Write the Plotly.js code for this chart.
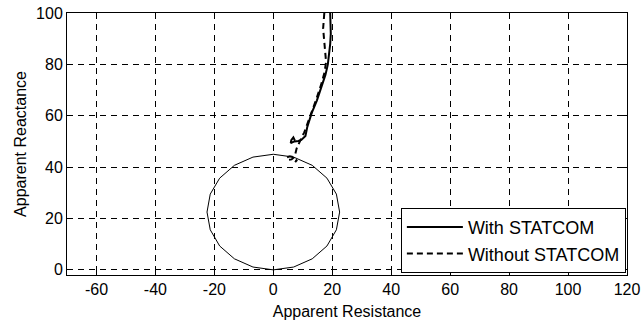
<!DOCTYPE html>
<html>
<head>
<meta charset="utf-8">
<script src="https://cdn.plot.ly/plotly-3.0.1.min.js"></script>
<style>html,body{margin:0;padding:0;background:#fff;}#chart{width:642px;height:326px;}</style>
</head>
<body>
<div id="chart"></div>
<script>
// Mho relay characteristic (polygon)
const circleR = [0, -6.9, -13.2, -18.2, -21.4, -22.5, -21.4, -18.2, -13.2, -6.9, 0, 6.9, 13.2, 18.2, 21.4, 22.5, 21.4, 18.2, 13.2, 6.9, 0];
const circleX = [45, 43.9, 40.7, 35.7, 29.5, 22.5, 15.6, 9.3, 4.3, 1.1, 0, 1.1, 4.3, 9.3, 15.6, 22.5, 29.5, 35.7, 40.7, 43.9, 45];

// Impedance trajectory with STATCOM
const withR = [19.3, 19.5, 19.5, 19.3, 19.0, 18.5, 17.7, 16.5, 14.8, 13.0, 11.5, 10.9, 9.5, 8.5, 7.2, 5.9, 6.1, 6.8, 7.3];
const withX = [100, 95, 92, 88, 84, 80, 76, 71.5, 66, 61, 55.5, 52.1, 50.6, 50.2, 50.0, 49.4, 50.5, 51.6, 50.4];

// Impedance trajectory without STATCOM
const withoutR = [17.3, 17.0, 16.9, 17.2, 17.6, 17.9, 17.4, 16.2, 14.6, 13.0, 11.6, 10.5, 9.7, 9.0, 8.5, 7.9, 7.5, 7.2, 6.2, 5.0, 4.6, 5.6, 7.0, 7.9, 7.4];
const withoutX = [100, 97, 94, 90, 86, 81, 77, 72, 66.5, 61.5, 56.5, 53.5, 51.8, 50, 48.5, 47.2, 45.3, 44, 43, 42.8, 43.8, 44.2, 43.8, 42.6, 41.9];

const xTicks = [-60, -40, -20, 0, 20, 40, 60, 80, 100, 120];
const yTicks = [0, 20, 40, 60, 80, 100];

const traces = [
  {x: circleR, y: circleX, mode: 'lines', line: {color: '#000', width: 1}, showlegend: false, hoverinfo: 'skip'},
  {x: withR, y: withX, mode: 'lines', name: 'With STATCOM', line: {color: '#000', width: 2}},
  {x: withoutR, y: withoutX, mode: 'lines', name: 'Without STATCOM', line: {color: '#000', width: 2, dash: '6px,4px'}}
];

const FONT = 'Liberation Sans, Arial, sans-serif';
const axisCommon = {
  showline: true, linecolor: '#000', linewidth: 1, mirror: 'ticks',
  ticks: 'inside', ticklen: 5, tickcolor: '#000', tickwidth: 1,
  showgrid: true, gridcolor: '#000', gridwidth: 1, griddash: '6px,5px',
  zeroline: false,
  tickfont: {family: FONT, size: 16, color: '#000'}
};

const layout = {
  width: 642, height: 326,
  margin: {l: 67, r: 15, t: 13, b: 51},
  paper_bgcolor: '#fff', plot_bgcolor: '#fff',
  font: {family: FONT, size: 16, color: '#000'},
  xaxis: Object.assign({}, axisCommon, {
    range: [-70, 120], tickvals: xTicks, ticktext: xTicks.map(String),
    title: {text: 'Apparent Resistance', standoff: 8, font: {size: 16}}
  }),
  yaxis: Object.assign({}, axisCommon, {
    range: [-2, 100], tickvals: yTicks, ticktext: yTicks.map(String),
    title: {text: 'Apparent Reactance', standoff: 5, font: {size: 16}}
  }),
  showlegend: true,
  legend: {
    x: 0.998, y: 0.008, xanchor: 'right', yanchor: 'bottom',
    bgcolor: '#fff', bordercolor: '#000', borderwidth: 1,
    font: {size: 18, color: '#000'}, itemwidth: 56
  }
};

Plotly.newPlot('chart', traces, layout, {displayModeBar: false, staticPlot: true});
</script>
</body>
</html>
